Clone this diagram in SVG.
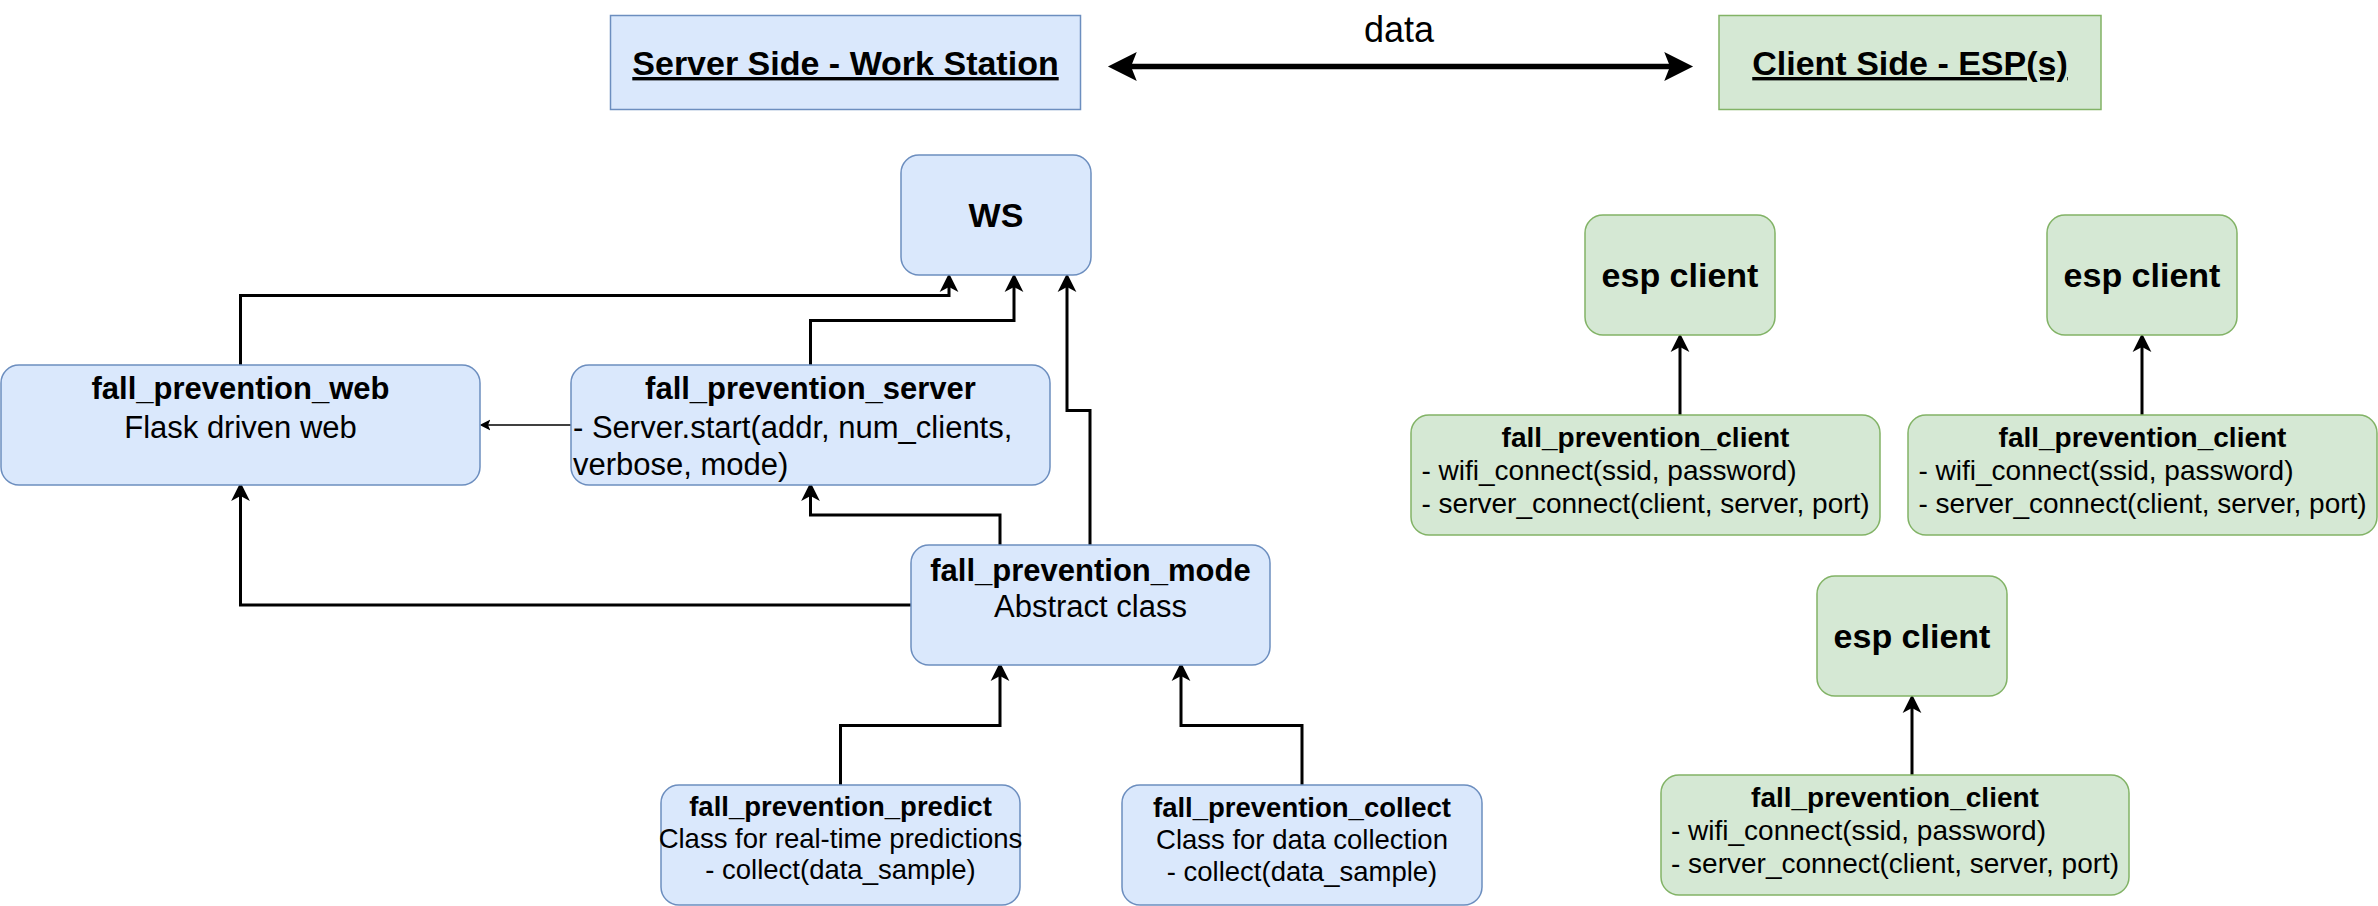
<svg xmlns="http://www.w3.org/2000/svg" width="2378" height="906" viewBox="0 0 2378 906">
<defs>
<style>
.blue{fill:#dae8fc;stroke:#6c8ebf;stroke-width:1.5}
.green{fill:#d5e8d4;stroke:#82b366;stroke-width:1.5}
text{font-family:"Liberation Sans",Arial,Helvetica,sans-serif;fill:#000}
.b{font-weight:bold}
.c{text-anchor:middle}
.f34{font-size:34px}
.f31{font-size:31px}
.f28{font-size:28px}
.f27{font-size:27.5px}
.con{fill:none;stroke:#000;stroke-width:3}
.thin{fill:none;stroke:#000;stroke-width:1.5}
</style>
<marker id="ah" markerUnits="userSpaceOnUse" markerWidth="20" markerHeight="20" viewBox="0 -8 16 16" refX="4" refY="0" orient="auto">
<path d="M0,-7.5 L15,0 L0,7.5 L4,0 Z" fill="#000"/>
</marker>
<marker id="ahs" markerUnits="userSpaceOnUse" markerWidth="12" markerHeight="12" viewBox="0 -5 10 10" refX="2" refY="0" orient="auto">
<path d="M0,-4.5 L9,0 L0,4.5 L2,0 Z" fill="#000"/>
</marker>
<marker id="ahb" markerUnits="userSpaceOnUse" markerWidth="30" markerHeight="30" viewBox="0 -13 26 26" refX="5" refY="0" orient="auto-start-reverse">
<path d="M0,-12.5 L25,0 L0,12.5 L5,0 Z" fill="#000"/>
</marker>
</defs>

<g id="connectors">
<path class="con" d="M240.5,365 V295.5 H949 V287" marker-end="url(#ah)"/>
<path class="con" d="M810.5,365 V320.5 H1014 V287" marker-end="url(#ah)"/>
<path class="con" d="M1090,545 V410.5 H1067 V287" marker-end="url(#ah)"/>
<path class="con" d="M1000,545 V515 H810.5 V496" marker-end="url(#ah)"/>
<path class="con" d="M911,605 H240.5 V496" marker-end="url(#ah)"/>
<path class="thin" d="M571,425 H488" marker-end="url(#ahs)"/>
<path class="con" d="M840.5,785 V725.5 H1000 V676" marker-end="url(#ah)"/>
<path class="con" d="M1302,785 V725.5 H1181 V676" marker-end="url(#ah)"/>
<path class="con" d="M1680,415 V347" marker-end="url(#ah)"/>
<path class="con" d="M2142,415 V347" marker-end="url(#ah)"/>
<path class="con" d="M1912,775 V708" marker-end="url(#ah)"/>
<path d="M1131,66.5 H1670" fill="none" stroke="#000" stroke-width="5.5" marker-start="url(#ahb)" marker-end="url(#ahb)"/>
<text class="c" x="1399" y="42" style="font-size:36px">data</text>
</g>

<g id="server-side-title">
<rect class="blue" x="610.5" y="15.5" width="470" height="94"/>
<text class="b c f34" x="845.5" y="75" text-decoration="underline">Server Side - Work Station</text>
</g>

<g id="client-side-title">
<rect class="green" x="1719" y="15.5" width="382" height="94"/>
<text class="b c f34" x="1910" y="75" text-decoration="underline">Client Side - ESP(s)</text>
</g>

<g id="ws">
<rect class="blue" x="901" y="155" width="190" height="120" rx="18"/>
<text class="b c f34" x="996" y="227">WS</text>
</g>

<g id="fall_prevention_web">
<rect class="blue" x="1" y="365" width="479" height="120" rx="18"/>
<text class="b c f31" x="240.5" y="399">fall_prevention_web</text>
<text class="c f31" x="240.5" y="438">Flask driven web</text>
</g>

<g id="fall_prevention_server">
<rect class="blue" x="571" y="365" width="479" height="120" rx="18"/>
<text class="b c f31" x="810.5" y="399">fall_prevention_server</text>
<text class="f31" x="573" y="438">- Server.start(addr, num_clients,</text>
<text class="f31" x="573" y="475">verbose, mode)</text>
</g>

<g id="fall_prevention_mode">
<rect class="blue" x="911" y="545" width="359" height="120" rx="18"/>
<text class="b c f31" x="1090.5" y="580.5">fall_prevention_mode</text>
<text class="c f31" x="1090.5" y="617">Abstract class</text>
</g>

<g id="fall_prevention_predict">
<rect class="blue" x="661" y="785" width="359" height="120" rx="18"/>
<text class="b c f27" x="840.5" y="816">fall_prevention_predict</text>
<text class="c f27" x="840.5" y="847.5">Class for real-time predictions</text>
<text class="c f27" x="840.5" y="879">- collect(data_sample)</text>
</g>

<g id="fall_prevention_collect">
<rect class="blue" x="1122" y="785" width="360" height="120" rx="18"/>
<text class="b c f27" x="1302" y="817">fall_prevention_collect</text>
<text class="c f27" x="1302" y="849">Class for data collection</text>
<text class="c f27" x="1302" y="881">- collect(data_sample)</text>
</g>

<g id="esp_client_1">
<rect class="green" x="1585" y="215" width="190" height="120" rx="18"/>
<text class="b c f34" x="1680" y="287">esp client</text>
</g>

<g id="esp_client_2">
<rect class="green" x="2047" y="215" width="190" height="120" rx="18"/>
<text class="b c f34" x="2142" y="287">esp client</text>
</g>

<g id="esp_client_3">
<rect class="green" x="1817" y="576" width="190" height="120" rx="18"/>
<text class="b c f34" x="1912" y="648">esp client</text>
</g>

<g id="fall_prevention_client_1">
<rect class="green" x="1411" y="415" width="469" height="120" rx="18"/>
<text class="b c f28" x="1645.5" y="447">fall_prevention_client</text>
<text class="f28" x="1421.5" y="480">- wifi_connect(ssid, password)</text>
<text class="f28" x="1421.5" y="513">- server_connect(client, server, port)</text>
</g>

<g id="fall_prevention_client_2">
<rect class="green" x="1908" y="415" width="469" height="120" rx="18"/>
<text class="b c f28" x="2142.5" y="447">fall_prevention_client</text>
<text class="f28" x="1918.5" y="480">- wifi_connect(ssid, password)</text>
<text class="f28" x="1918.5" y="513">- server_connect(client, server, port)</text>
</g>

<g id="fall_prevention_client_3">
<rect class="green" x="1661" y="775" width="468" height="120" rx="18"/>
<text class="b c f28" x="1895" y="807">fall_prevention_client</text>
<text class="f28" x="1671" y="840">- wifi_connect(ssid, password)</text>
<text class="f28" x="1671" y="873">- server_connect(client, server, port)</text>
</g>
</svg>
